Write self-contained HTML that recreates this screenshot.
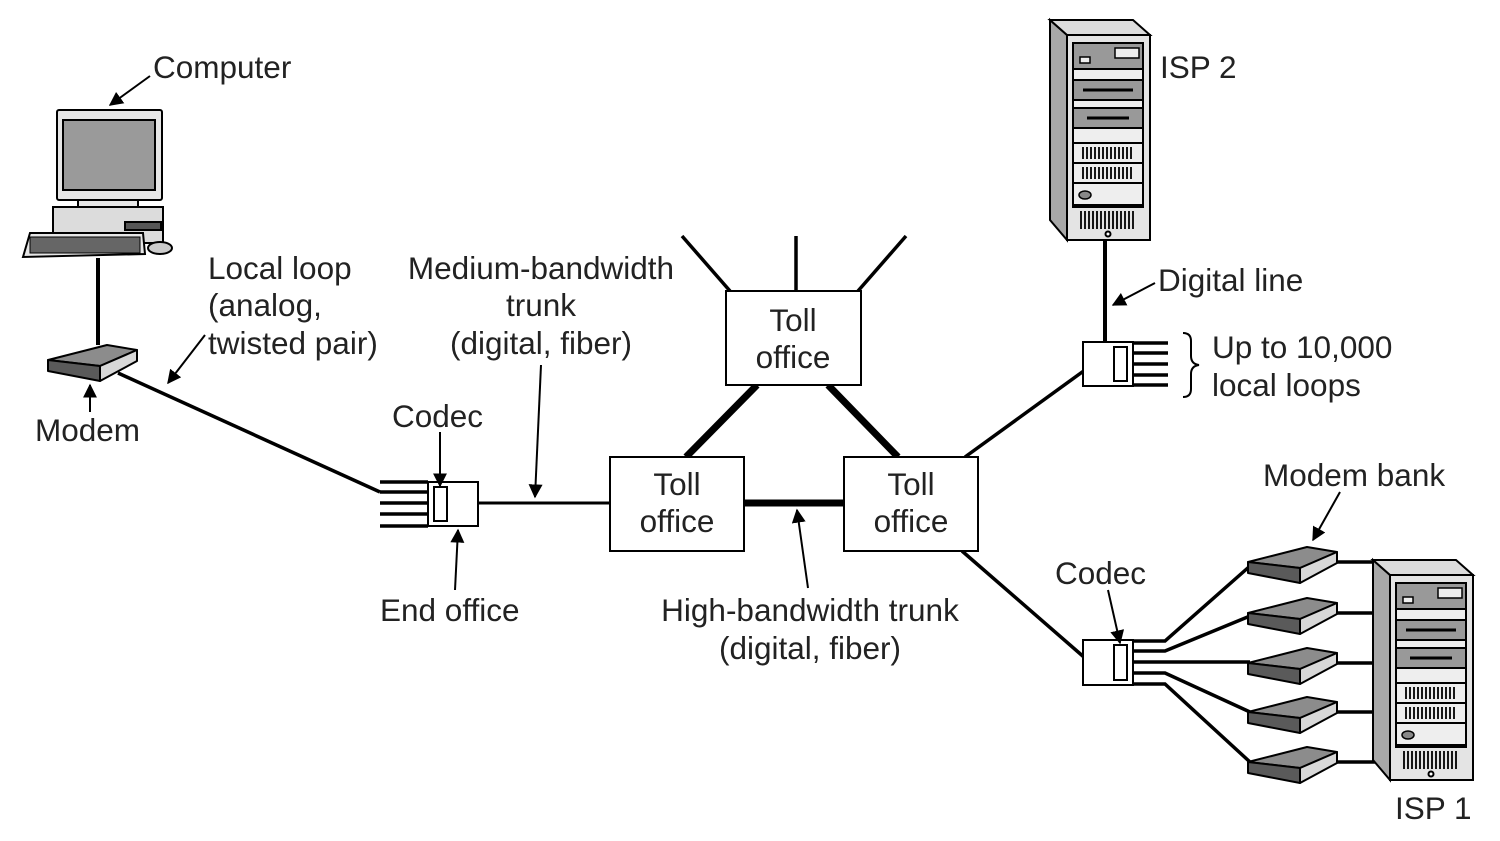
<!DOCTYPE html>
<html><head><meta charset="utf-8"><style>
html,body{margin:0;padding:0;background:#fff;}
svg{display:block;}
text{font-family:"Liberation Sans",Arial,sans-serif;font-size:31.5px;fill:#222;dominant-baseline:central;}
</style></head><body>
<svg width="1500" height="841" viewBox="0 0 1500 841" xmlns="http://www.w3.org/2000/svg">
<defs>
<marker id="ah" viewBox="0 0 10 10" refX="9" refY="5" markerWidth="7" markerHeight="7" orient="auto"><path d="M0,0 L10,5 L0,10 z" fill="#000"/></marker>
<g id="modem" stroke="#000" stroke-width="2" stroke-linejoin="round">
<polygon points="0,0 59,-15 89,-10 52,6" fill="#8c8c8c"/>
<polygon points="0,0 52,6 52,21 0,11" fill="#5a5a5a"/>
<polygon points="52,6 89,-10 89,1 52,21" fill="#d8d8d8"/>
</g>
<g id="server" stroke="#000" stroke-width="2">
<polygon points="-17,-15 0,0 0,205 -17,185" fill="#a8a8a8"/>
<polygon points="-17,-15 66,-15 83,0 0,0" fill="#dcdcdc"/>
<rect x="0" y="0" width="83" height="205" fill="#e4e4e4"/>
<rect x="6" y="8" width="70" height="164" fill="#eeeeee"/>
<rect x="6" y="8" width="70" height="26" fill="#999"/>
<rect x="48" y="13" width="24" height="10" fill="#eee" stroke-width="1.5"/>
<rect x="13" y="22" width="10" height="6" fill="#eee" stroke-width="1.5"/>
<rect x="6" y="45" width="70" height="20" fill="#999"/>
<line x1="16" y1="55" x2="66" y2="55" stroke-width="3"/>
<rect x="6" y="73" width="70" height="20" fill="#999"/>
<line x1="20" y1="83" x2="62" y2="83" stroke-width="3"/>
<rect x="6" y="108" width="70" height="20" fill="#eee"/>
<rect x="6" y="128" width="70" height="20" fill="#eee"/>
<rect x="6" y="148" width="70" height="22" fill="#eee"/>
<path d="M16,112v12M20,112v12M24,112v12M28,112v12M32,112v12M36,112v12M40,112v12M44,112v12M48,112v12M52,112v12M56,112v12M60,112v12M64,112v12M16,132v12M20,132v12M24,132v12M28,132v12M32,132v12M36,132v12M40,132v12M44,132v12M48,132v12M52,132v12M56,132v12M60,132v12M64,132v12" stroke-width="1.8"/>
<ellipse cx="18" cy="160" rx="6" ry="4" fill="#888" stroke-width="1.5"/>
<path d="M14,176v18M18,176v18M22,176v18M26,176v18M30,176v18M34,176v18M38,176v18M42,176v18M46,176v18M50,176v18M54,176v18M58,176v18M62,176v18M66,176v18" stroke-width="1.8"/>
<circle cx="41" cy="199" r="2.5" fill="#fff"/>
</g>
</defs>

<g stroke="#000" stroke-width="2">
<rect x="57" y="110" width="105" height="90" fill="#e6e6e6" rx="2"/>
<rect x="63" y="120" width="92" height="70" fill="#9a9a9a"/>
<rect x="78" y="200" width="60" height="17" fill="#e6e6e6"/>
<rect x="53" y="207" width="110" height="36" fill="#dcdcdc"/>
<rect x="125" y="222" width="36" height="8" fill="#555"/>
<polygon points="30,233 143,233 145,254 23,257" fill="#e6e6e6"/>
<rect x="30" y="237" width="110" height="16" fill="#666" stroke-width="1"/>
<ellipse cx="160" cy="248" rx="12" ry="6" fill="#ccc"/>
</g>
<line x1="98" y1="258" x2="98" y2="345" stroke="#000" stroke-width="4"/>
<use href="#modem" x="48" y="360"/>
<line x1="118" y1="373" x2="380" y2="492" stroke="#000" stroke-width="3.5"/>

<g stroke="#000" stroke-width="3.5">
<line x1="380" y1="482" x2="428" y2="482"/><line x1="380" y1="492" x2="428" y2="492"/>
<line x1="380" y1="503" x2="428" y2="503"/><line x1="380" y1="514" x2="428" y2="514"/>
<line x1="380" y1="526" x2="428" y2="526"/>
<line x1="478" y1="503" x2="610" y2="503" stroke-width="3"/>
</g>
<rect x="428" y="482" width="50" height="44" fill="#fff" stroke="#000" stroke-width="2"/>
<rect x="434" y="487" width="13" height="34" fill="#fff" stroke="#000" stroke-width="2"/>

<g stroke="#000">
<line x1="744" y1="503" x2="844" y2="503" stroke-width="7"/>
<line x1="757" y1="385" x2="686" y2="457" stroke-width="7"/>
<line x1="828" y1="385" x2="898" y2="457" stroke-width="7"/>
<line x1="682" y1="236" x2="730" y2="291" stroke-width="3.5"/>
<line x1="796" y1="236" x2="796" y2="291" stroke-width="3.5"/>
<line x1="906" y1="236" x2="858" y2="291" stroke-width="3.5"/>
<line x1="965" y1="457" x2="1085" y2="370" stroke-width="3.5"/>
<line x1="962" y1="551" x2="1085" y2="658" stroke-width="3.5"/>
</g>
<g fill="#fff" stroke="#000" stroke-width="2">
<rect x="610" y="457" width="134" height="94"/>
<rect x="844" y="457" width="134" height="94"/>
<rect x="726" y="291" width="135" height="94"/>
</g>

<use href="#server" x="1067" y="35"/>
<line x1="1105" y1="240" x2="1105" y2="342" stroke="#000" stroke-width="4"/>
<g stroke="#000" stroke-width="3.5">
<line x1="1133" y1="343" x2="1168" y2="343"/><line x1="1133" y1="353" x2="1168" y2="353"/>
<line x1="1133" y1="364" x2="1168" y2="364"/><line x1="1133" y1="375" x2="1168" y2="375"/>
<line x1="1133" y1="385" x2="1168" y2="385"/>
</g>
<rect x="1083" y="342" width="50" height="44" fill="#fff" stroke="#000" stroke-width="2"/>
<rect x="1114" y="347" width="13" height="34" fill="#fff" stroke="#000" stroke-width="2"/>
<path d="M1183,333 q8,0 8,8 v15 q0,8 8,9 q-8,1 -8,9 v15 q0,8 -8,8" fill="none" stroke="#000" stroke-width="2"/>

<g stroke="#000" stroke-width="3.5" fill="none">
<polyline points="1133,641 1165,641 1250,566"/>
<polyline points="1133,651 1165,651 1250,616"/>
<line x1="1133" y1="662" x2="1250" y2="662"/>
<polyline points="1133,673 1165,673 1250,712"/>
<polyline points="1133,684 1165,684 1250,762"/>
<line x1="1330" y1="562" x2="1387" y2="562"/>
<line x1="1330" y1="613" x2="1387" y2="613"/>
<line x1="1330" y1="663" x2="1387" y2="663"/>
<line x1="1330" y1="712" x2="1387" y2="712"/>
<line x1="1330" y1="762" x2="1387" y2="762"/>
</g>
<rect x="1083" y="640" width="50" height="45" fill="#fff" stroke="#000" stroke-width="2"/>
<rect x="1114" y="645" width="13" height="35" fill="#fff" stroke="#000" stroke-width="2"/>
<use href="#modem" x="1248" y="562"/>
<use href="#modem" x="1248" y="613"/>
<use href="#modem" x="1248" y="663"/>
<use href="#modem" x="1248" y="712"/>
<use href="#modem" x="1248" y="762"/>
<use href="#server" x="1390" y="575"/>

<g stroke="#000" stroke-width="2" marker-end="url(#ah)">
<line x1="150" y1="76" x2="110" y2="105"/>
<line x1="205" y1="335" x2="168" y2="383"/>
<line x1="90" y1="412" x2="90" y2="385"/>
<line x1="440" y1="432" x2="440" y2="486"/>
<line x1="455" y1="590" x2="458" y2="530"/>
<line x1="541" y1="365" x2="535" y2="497"/>
<line x1="808" y1="588" x2="797" y2="510"/>
<line x1="1155" y1="283" x2="1113" y2="305"/>
<line x1="1340" y1="492" x2="1313" y2="540"/>
<line x1="1108" y1="590" x2="1120" y2="643"/>
</g>

<text x="153" y="67">Computer</text>
<text x="208" y="268">Local loop</text>
<text x="208" y="305">(analog,</text>
<text x="208" y="343">twisted pair)</text>
<text x="35" y="430">Modem</text>
<text x="392" y="416">Codec</text>
<text x="380" y="610">End office</text>
<g text-anchor="middle">
<text x="541" y="268">Medium-bandwidth</text>
<text x="541" y="305">trunk</text>
<text x="541" y="343">(digital, fiber)</text>
<text x="810" y="610">High-bandwidth trunk</text>
<text x="810" y="648">(digital, fiber)</text>
<text x="793" y="320">Toll</text>
<text x="793" y="357">office</text>
<text x="677" y="484">Toll</text>
<text x="677" y="521">office</text>
<text x="911" y="484">Toll</text>
<text x="911" y="521">office</text>
</g>
<text x="1160" y="67">ISP 2</text>
<text x="1158" y="280">Digital line</text>
<text x="1212" y="347">Up to 10,000</text>
<text x="1212" y="385">local loops</text>
<text x="1263" y="475">Modem bank</text>
<text x="1055" y="573">Codec</text>
<text x="1395" y="808">ISP 1</text>
</svg>
</body></html>
